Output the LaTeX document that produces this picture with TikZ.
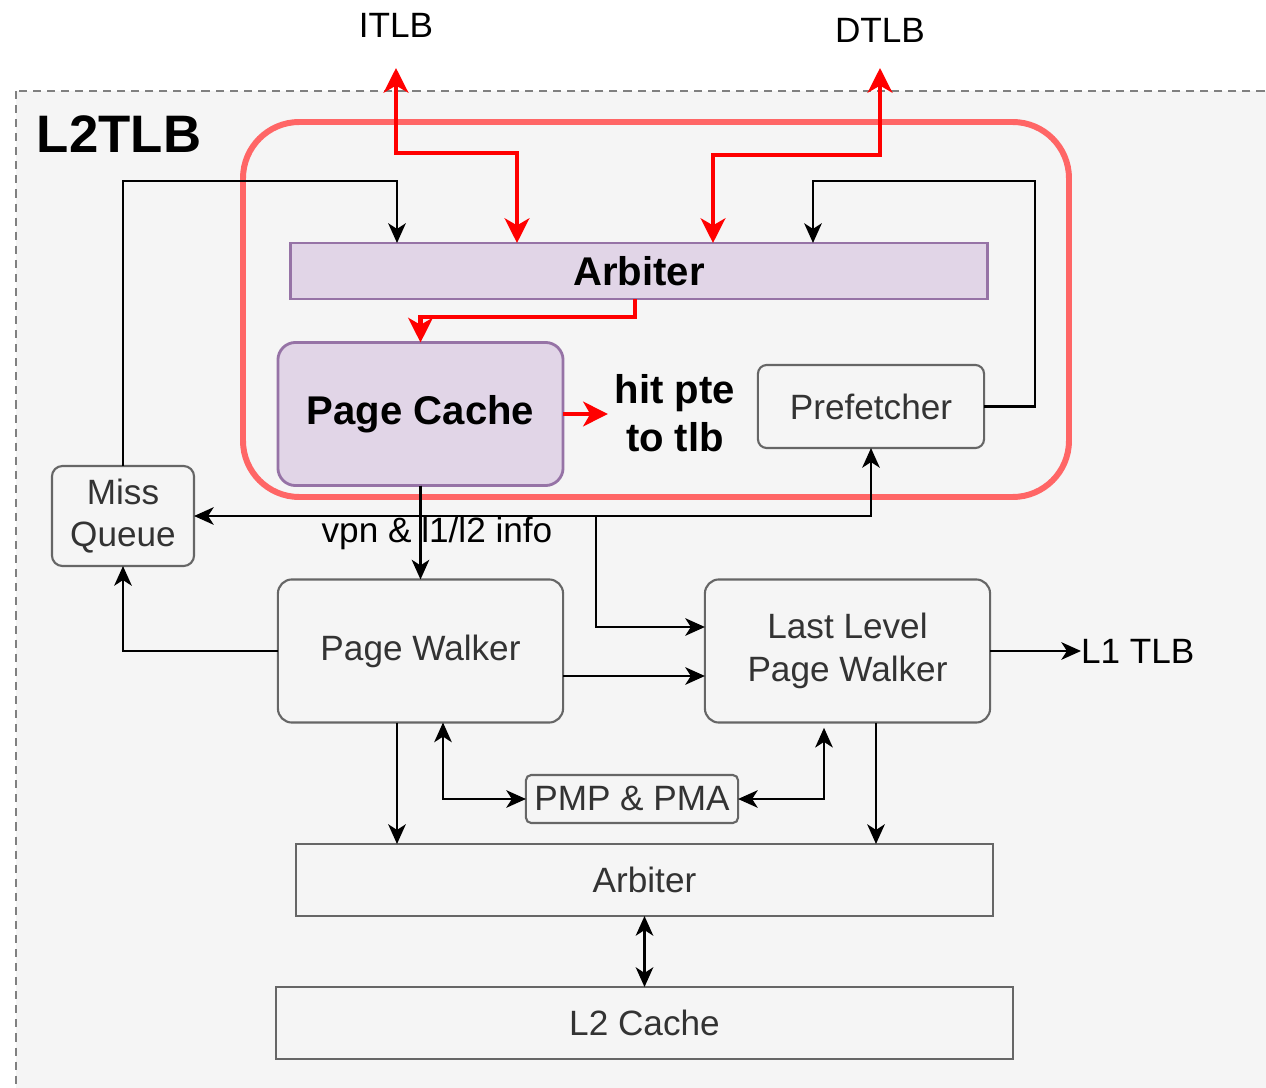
\documentclass[tikz,border=0pt]{standalone}
\usepackage{fontspec}
\setmainfont{Liberation Sans}
\usetikzlibrary{arrows.meta}
\definecolor{pcfill}{HTML}{E1D5E7}
\definecolor{pcdraw}{HTML}{9673A6}
\definecolor{hlred}{HTML}{FF6666}
\definecolor{boxgray}{HTML}{666666}
\definecolor{txtgray}{HTML}{333333}
\definecolor{bggray}{HTML}{F5F5F5}

\begin{document}
\begin{tikzpicture}[x=0.01cm, y=-0.01cm,
    every node/.style={inner sep=0pt, outer sep=0pt},
    blk/.style={draw=boxgray, fill=bggray, line width=0.6pt, text=txtgray, align=center,
      font=\fontsize{10}{12}\selectfont, rounded corners=4pt},
    purp/.style={draw=pcdraw, fill=pcfill, line width=0.8pt, align=center,
      font=\bfseries\fontsize{11.4}{13.7}\selectfont},
    arr/.style={-{Stealth[length=5.6pt,width=5pt,inset=1.6pt]}, line width=0.6pt},
    arrboth/.style={{Stealth[length=5.6pt,width=5pt,inset=1.6pt]}-{Stealth[length=5.6pt,width=5pt,inset=1.6pt]}, line width=0.6pt},
    redarr/.style={-{Stealth[length=7pt,width=7pt,inset=2pt]}, draw=red, line width=1.2pt},
    redboth/.style={{Stealth[length=7pt,width=7pt,inset=2pt]}-{Stealth[length=7pt,width=7pt,inset=2pt]}, draw=red, line width=1.2pt}]
  \useasboundingbox (0,0) rectangle (1266,1088);
  % L2TLB frame
  \draw[draw=gray, fill=bggray, line width=0.6pt, dash pattern=on 2.3pt off 1.7pt] (16,91) rectangle (1275,1095);
  \node[anchor=base west, font=\bfseries\fontsize{15}{18}\selectfont] (l2tlb) at (37,153) {L2TLB};
  \draw[hlred, line width=1.7pt, rounded corners=16pt] (243,122) rectangle (1069,497);

  % outside ports
  \node[anchor=base, font=\fontsize{10}{12}\selectfont] (itlb) at (396,38) {ITLB};
  \node[anchor=base, font=\fontsize{10}{12}\selectfont] (dtlb) at (880,43) {DTLB};
  \coordinate (itlbend) at (396,68);
  \coordinate (dtlbend) at (880,68);

  % blocks
  \node[purp, minimum width=6.96cm, minimum height=0.56cm] (arbtop) at (639,271) {Arbiter};
  \node[purp, rounded corners=5pt, minimum width=2.85cm, minimum height=1.43cm] (pcache) at (420.5,414) {Page Cache};
  \node[inner sep=2pt, align=center, font=\bfseries\fontsize{11.4}{13.7}\selectfont] (hit) at (675,413) {hit pte\\to tlb};
  \node[blk, rounded corners=2.5pt, minimum width=2.26cm, minimum height=0.83cm] (prefetch) at (871,406.5) {Prefetcher};
  \node[blk, rounded corners=3pt, minimum width=1.42cm, minimum height=1cm] (missq) at (123,516) {Miss\\Queue};
  \node[blk, minimum width=2.85cm, minimum height=1.43cm] (pwalk) at (420.5,651) {Page Walker};
  \node[blk, minimum width=2.85cm, minimum height=1.43cm] (llpw) at (847.5,651) {Last Level\\Page Walker};
  \node[blk, rounded corners=1.5pt, minimum width=2.12cm, minimum height=0.48cm] (pmp) at (632,799) {PMP \& PMA};
  \node[blk, rounded corners=0pt, minimum width=6.97cm, minimum height=0.72cm] (arbbot) at (644.5,880) {Arbiter};
  \node[blk, rounded corners=0pt, minimum width=7.37cm, minimum height=0.72cm] (l2c) at (644.5,1023) {L2 Cache};
  \node[anchor=west, font=\fontsize{10}{12}\selectfont] (l1tlb) at (1081,651) {L1 TLB};
  \node[anchor=base, font=\fontsize{10}{12}\selectfont] (vpn) at (437,542) {vpn \& l1/l2 info};

  % red paths
  \draw[redboth] (itlbend) -- (396,153) -| (arbtop.north -| 517,0);
  \draw[redboth] (dtlbend) -- (880,155) -| (arbtop.north -| 713,0);
  \draw[redarr] (arbtop.south -| 635,0) -- (635,317) -| (pcache.north);
  \draw[redarr] (pcache.east) -- (pcache.east -| hit.west);

  % black paths
  \draw[arr] (missq.north) |- (397,181) -- (arbtop.north -| 397,0);
  \draw[arr] (prefetch.east) -| (1035,181) -| (arbtop.north -| 813,0);
  \draw[arr] (pcache.south) -- (pwalk.north);
  \draw[arr] (pcache.south) |- (missq.east);
  \draw[arr] (pcache.south |- missq.east) -| (prefetch.south);
  \draw[arr] (pcache.south |- missq.east) -| (596,627) -- (llpw.west |- 0,627);
  \draw[arr] (pwalk.west) -| (missq.south);
  \draw[arr] (pwalk.east |- 0,676) -- (llpw.west |- 0,676);
  \draw[arr] (llpw.east) -- (l1tlb.west);
  \draw[arr] (pwalk.south -| 397,0) -- (arbbot.north -| 397,0);
  \draw[arr] (llpw.south -| 876,0) -- (arbbot.north -| 876,0);
  \draw[arrboth] (pwalk.south -| 443,0) |- (pmp.west);
  \draw[arrboth] ([yshift=-1.5pt]llpw.south -| 824,0) |- (pmp.east);
  \draw[arrboth] (arbbot.south) -- (l2c.north);
\end{tikzpicture}
\end{document}
